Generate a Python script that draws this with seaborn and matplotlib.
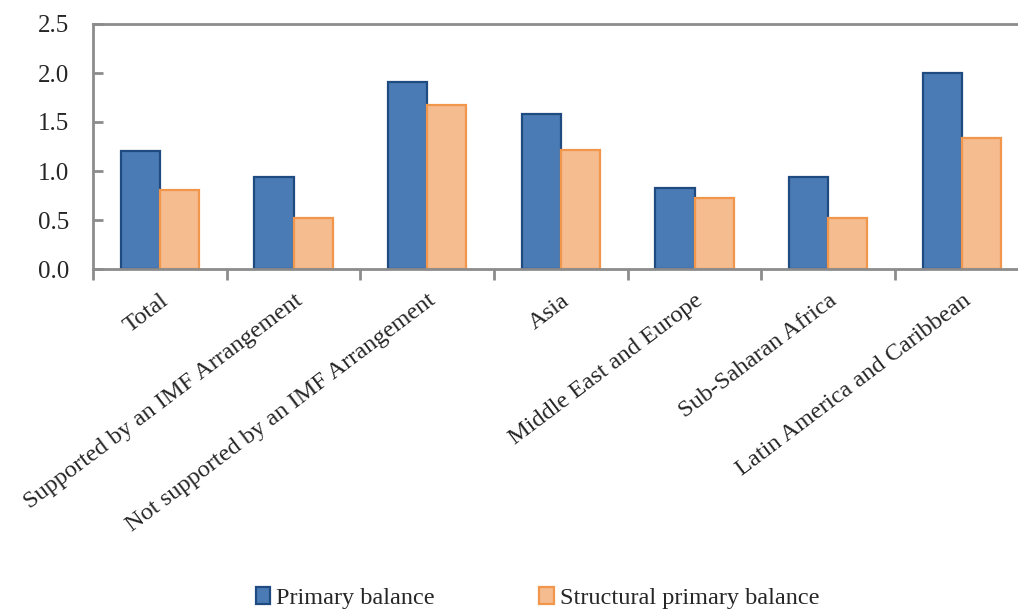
import matplotlib
matplotlib.use("Agg")
import matplotlib.pyplot as plt
import seaborn as sns
import pandas as pd
from matplotlib.patches import Patch
from matplotlib.ticker import FixedLocator, FormatStrFormatter

categories = [
    "Total",
    "Supported by an IMF Arrangement",
    "Not supported by an IMF Arrangement",
    "Asia",
    "Middle East and Europe",
    "Sub-Saharan Africa",
    "Latin America and Caribbean",
]
primary_balance = [1.20, 0.94, 1.91, 1.58, 0.83, 0.94, 2.00]
structural_primary_balance = [0.81, 0.52, 1.67, 1.21, 0.72, 0.52, 1.34]
series_names = ["Primary balance", "Structural primary balance"]
y_ticks = [0.0, 0.5, 1.0, 1.5, 2.0, 2.5]

df = pd.DataFrame({
    "category": categories * 2,
    "series": [series_names[0]] * len(categories) + [series_names[1]] * len(categories),
    "value": primary_balance + structural_primary_balance,
})

sns.set_theme(style="white")
plt.rcParams["font.family"] = ["Liberation Serif", "DejaVu Serif"]

fills = ["#4A7BB4", "#F4BC8F"]
edges = ["#1F4B80", "#F2964C"]
axis_grey = "#8C8C8C"

fig = plt.figure(figsize=(10.18, 6.13), dpi=100)
ax = fig.add_axes([93 / 1018, 1 - 269 / 613, 1 - 93 / 1018, 245 / 613])

sns.barplot(
    data=df, x="category", y="value", hue="series",
    order=categories, hue_order=series_names,
    palette=fills, width=0.585, gap=0, saturation=1,
    legend=False, ax=ax,
)
for cont, ec in zip(ax.containers, edges):
    for bar in cont:
        bar.set_edgecolor(ec)
        bar.set_linewidth(1.6)

ax.set_xlim(-0.5, 6.42)
ax.set_ylim(0, 2.5)
ax.set_xlabel("")
ax.set_ylabel("")

for side in ["left", "bottom", "top"]:
    ax.spines[side].set_color(axis_grey)
    ax.spines[side].set_linewidth(2)
ax.spines["right"].set_visible(False)

# y axis: ticks pointing into the plot
ax.yaxis.set_major_locator(FixedLocator(y_ticks))
ax.yaxis.set_major_formatter(FormatStrFormatter("%.1f"))
ax.tick_params(axis="y", direction="in", length=7, width=2, color=axis_grey,
               labelsize=18, pad=17, left=True)

# x axis: labels at category centres, tick marks at category boundaries
ax.set_xticks(range(len(categories)))
ax.set_xticklabels(categories, rotation=37, ha="right", rotation_mode="anchor")
ax.xaxis.set_minor_locator(FixedLocator([i - 0.5 for i in range(len(categories) + 1)]))
ax.tick_params(axis="x", which="major", length=0, labelsize=17.6, pad=15)
ax.tick_params(axis="x", which="minor", direction="out", length=8, width=2,
               color=axis_grey, bottom=True)

handles = [Patch(facecolor=f, edgecolor=e, linewidth=1.6) for f, e in zip(fills, edges)]
fig.legend(
    handles, series_names, loc="center", bbox_to_anchor=(0.528, 0.024),
    ncol=2, frameon=False, fontsize=17.5, handlelength=0.6, handleheight=0.65,
    handletextpad=0.25, columnspacing=4.3,
)

fig.savefig("out.png", dpi=100)
